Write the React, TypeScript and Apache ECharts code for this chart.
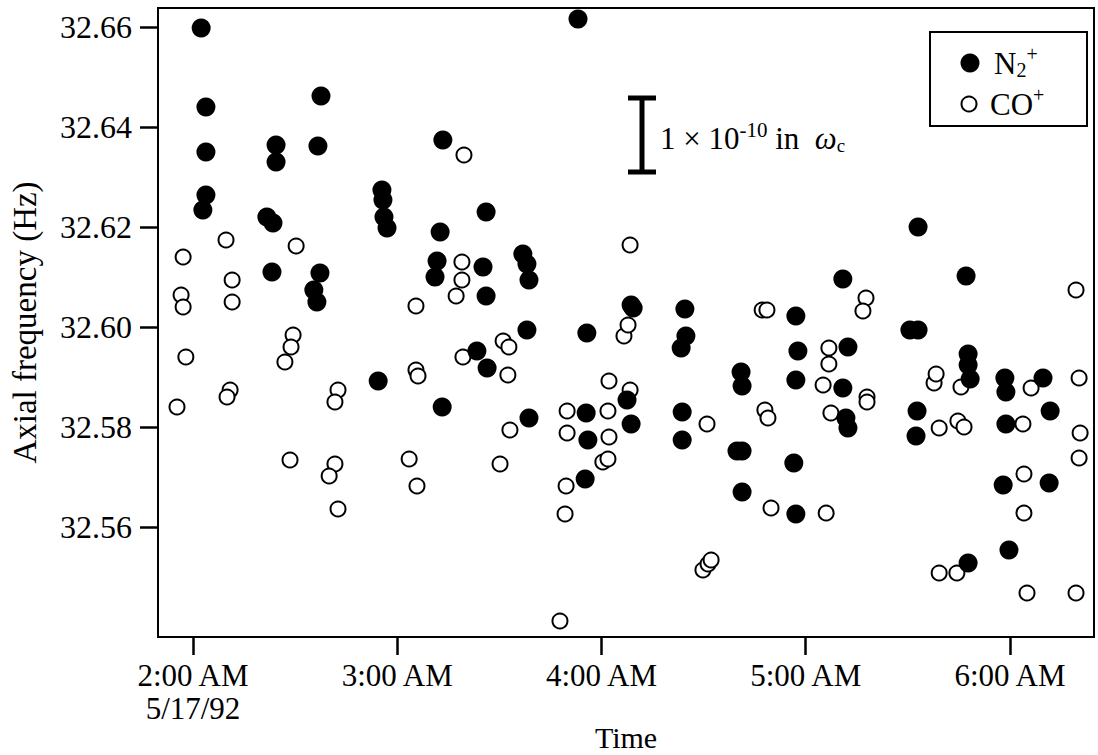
import React, { useEffect, useRef } from "react";
import * as echarts from "echarts";

// Time in minutes after midnight (5/17/92); frequency in Hz
const n2Times = [
  122.4, 123.8, 123.8, 123.8, 122.9, 141.7, 143.5, 143.2, 144.4, 144.4,
  157.6, 156.7, 157.3, 155.5, 156.4, 175.5, 175.8, 176.1, 177.0, 174.4,
  193.4, 192.6, 191.7, 191.1, 193.2, 206.1, 205.2, 206.1, 203.4, 206.4,
  216.9, 218.1, 218.7, 218.1, 218.7, 233.1, 235.7, 235.5, 236.0, 235.2,
  247.5, 248.7, 248.7, 249.3, 264.5, 264.8, 263.4, 263.7, 263.7, 281.0,
  281.3, 279.8, 281.3, 281.3, 297.1, 297.7, 297.1, 296.5, 297.1, 310.9,
  310.9, 312.4, 311.8, 312.4, 333.0, 330.6, 333.0, 332.7, 332.4, 347.1,
  347.7, 347.7, 348.3, 347.7, 358.5, 358.8, 358.8, 358.0, 359.7, 369.7,
  371.8, 371.5,
];
const n2Freqs = [
  32.6598, 32.644, 32.635, 32.6264, 32.6234, 32.622, 32.6208, 32.611, 32.6364, 32.633,
  32.6462, 32.6362, 32.6108, 32.6074, 32.605, 32.6274, 32.6254, 32.622, 32.6198, 32.5892,
  32.6374, 32.619, 32.6132, 32.61, 32.584, 32.623, 32.612, 32.6062, 32.5952, 32.5918,
  32.6146, 32.6126, 32.6094, 32.5994, 32.5818, 32.6616, 32.5988, 32.5828, 32.5774, 32.5696,
  32.5854, 32.5806, 32.6044, 32.6038, 32.6036, 32.5982, 32.5958, 32.583, 32.5774, 32.591,
  32.5882, 32.5752, 32.5752, 32.567, 32.6022, 32.5952, 32.5894, 32.5728, 32.5626, 32.6096,
  32.5878, 32.596, 32.5818, 32.5798, 32.62, 32.5994, 32.5994, 32.5832, 32.5782, 32.6102,
  32.5946, 32.5924, 32.5896, 32.5528, 32.5898, 32.587, 32.5806, 32.5684, 32.5554, 32.5898,
  32.5832, 32.5688,
];
const coTimes = [
  117.1, 129.7, 131.5, 131.5, 116.5, 117.1, 117.9, 115.3, 130.9, 130.0,
  150.3, 149.4, 148.8, 147.0, 148.5, 162.6, 161.7, 161.7, 160.0, 162.6,
  185.5, 185.5, 186.1, 183.5, 185.8, 199.6, 199.0, 199.0, 197.3, 199.3,
  211.1, 212.8, 212.5, 210.2, 213.1, 229.9, 229.9, 229.6, 229.3, 227.8,
  242.2, 241.9, 242.2, 240.4, 241.9, 246.6, 247.8, 248.4, 248.4, 271.0,
  269.8, 271.3, 272.2, 287.2, 288.6, 288.0, 288.9, 289.8, 306.0, 306.8,
  306.8, 305.1, 307.4, 317.7, 316.8, 318.0, 318.0, 337.7, 338.3, 339.2,
  339.2, 344.7, 346.5, 345.6, 344.4, 364.1, 364.1, 363.8, 366.2, 365.0,
  379.4, 380.3, 380.6, 380.3, 379.4,
];
const coFreqs = [
  32.614, 32.6174, 32.6094, 32.605, 32.6064, 32.604, 32.594, 32.584, 32.5874, 32.586,
  32.6162, 32.5984, 32.596, 32.593, 32.5734, 32.5874, 32.585, 32.5726, 32.5702, 32.5636,
  32.6042, 32.5914, 32.5902, 32.5736, 32.5682, 32.6344, 32.613, 32.6094, 32.6062, 32.594,
  32.5972, 32.596, 32.5904, 32.5726, 32.5794, 32.5832, 32.5788, 32.5682, 32.5626, 32.5412,
  32.5892, 32.5832, 32.578, 32.573, 32.5736, 32.5982, 32.6004, 32.6164, 32.5874, 32.5806,
  32.5514, 32.5526, 32.5534, 32.6034, 32.6034, 32.5834, 32.5818, 32.5638, 32.5628, 32.5958,
  32.5926, 32.5884, 32.5828, 32.6058, 32.6032, 32.586, 32.585, 32.5888, 32.5906, 32.5798,
  32.5508, 32.5812, 32.58, 32.588, 32.5508, 32.5628, 32.5706, 32.5806, 32.5878, 32.5468,
  32.6074, 32.5898, 32.5788, 32.5738, 32.5468,
];

const xTickMinutes = [120, 180, 240, 300, 360];
const xTickLabels = ["2:00 AM\n5/17/92", "3:00 AM", "4:00 AM", "5:00 AM", "6:00 AM"];
const yTickValues = [32.56, 32.58, 32.6, 32.62, 32.64, 32.66];

const FONT = "Liberation Serif";

export default function App() {
  const ref = useRef<HTMLDivElement>(null);
  useEffect(() => {
    if (!ref.current) return;
    const chart = echarts.init(ref.current, undefined, { renderer: "svg" });
    const n2Data = n2Times.map((t, i) => [t, n2Freqs[i]]);
    const coData = coTimes.map((t, i) => [t, coFreqs[i]]);
    chart.setOption({
      animation: false,
      backgroundColor: "#fff",
      textStyle: { fontFamily: FONT, color: "#000" },
      grid: {
        left: 158,
        right: 4,
        top: 8,
        bottom: 118,
        containLabel: false,
        outerBoundsMode: "none",
        show: true,
        borderColor: "#000",
        borderWidth: 2,
        backgroundColor: "transparent",
      },
      xAxis: {
        type: "value",
        min: 109.72,
        max: 384.68,
        name: "Time",
        nameLocation: "middle",
        nameGap: 100,
        nameMoveOverlap: false,
        nameTextStyle: { fontFamily: FONT, fontSize: 30, color: "#000", verticalAlign: "middle" },
        axisLine: { show: true, lineStyle: { color: "#000", width: 2 } },
        axisTick: {
          show: true,
          inside: false,
          length: 18,
          lineStyle: { color: "#000", width: 2.5 },
          customValues: xTickMinutes,
        },
        axisLabel: {
          customValues: xTickMinutes,
          margin: 22,
          fontFamily: FONT,
          fontSize: 31,
          color: "#000",
          lineHeight: 33,
          formatter: (v: number) => {
            const i = xTickMinutes.findIndex((m) => Math.abs(m - v) < 0.01);
            return i >= 0 ? xTickLabels[i] : "";
          },
        },
        splitLine: { show: false },
      },
      yAxis: {
        type: "value",
        min: 32.538,
        max: 32.6638,
        name: "Axial frequency (Hz)",
        nameLocation: "middle",
        nameGap: 133,
        nameRotate: 90,
        nameMoveOverlap: false,
        nameTextStyle: { fontFamily: FONT, fontSize: 33, color: "#000", verticalAlign: "middle" },
        axisLine: { show: true, lineStyle: { color: "#000", width: 2 } },
        axisTick: {
          show: true,
          inside: false,
          length: 18,
          lineStyle: { color: "#000", width: 2.5 },
          customValues: yTickValues,
        },
        axisLabel: {
          customValues: yTickValues,
          margin: 26,
          fontFamily: FONT,
          fontSize: 32,
          color: "#000",
          formatter: (v: number) => v.toFixed(2),
        },
        splitLine: { show: false },
      },
      graphic: [
        {
          type: "line",
          shape: { x1: 642, y1: 98, x2: 642, y2: 172 },
          style: { stroke: "#000", lineWidth: 5 },
        },
        {
          type: "line",
          shape: { x1: 628, y1: 98, x2: 656, y2: 98 },
          style: { stroke: "#000", lineWidth: 5 },
        },
        {
          type: "line",
          shape: { x1: 628, y1: 172, x2: 656, y2: 172 },
          style: { stroke: "#000", lineWidth: 5 },
        },
        {
          type: "text",
          x: 660,
          y: 138,
          style: {
            text: "{n|1 × 10}{sup|-10}{n| in  }{w|ω}{sub|c}",
            verticalAlign: "middle",
            rich: {
              n: { fontFamily: FONT, fontSize: 31, fill: "#000", lineHeight: 34 },
              sup: { fontFamily: FONT, fontSize: 21, fill: "#000", lineHeight: 34, padding: [0, 0, 16, 0] },
              w: { fontFamily: FONT, fontSize: 31, fontStyle: "italic", fill: "#000", lineHeight: 34 },
              sub: { fontFamily: FONT, fontSize: 19, fill: "#000", lineHeight: 34, padding: [14, 0, 0, 0] },
            },
          },
        },
        {
          type: "rect",
          shape: { x: 930, y: 32, width: 157, height: 94 },
          style: { fill: "#fff", stroke: "#000", lineWidth: 2 },
        },
        {
          type: "circle",
          shape: { cx: 970, cy: 63, r: 9.5 },
          style: { fill: "#000" },
        },
        {
          type: "circle",
          shape: { cx: 969, cy: 104, r: 7.5 },
          style: { fill: "#fff", stroke: "#000", lineWidth: 2 },
        },
        {
          type: "text",
          x: 994,
          y: 63,
          style: {
            text: "{n|N}{sub|2}{sup|+}",
            verticalAlign: "middle",
            rich: {
              n: { fontFamily: FONT, fontSize: 31, fill: "#000", lineHeight: 34 },
              sub: { fontFamily: FONT, fontSize: 20, fill: "#000", lineHeight: 34, padding: [14, 0, 0, 0] },
              sup: { fontFamily: FONT, fontSize: 20, fill: "#000", lineHeight: 34, padding: [0, 0, 18, 0] },
            },
          },
        },
        {
          type: "text",
          x: 990,
          y: 104,
          style: {
            text: "{n|CO}{sup|+}",
            verticalAlign: "middle",
            rich: {
              n: { fontFamily: FONT, fontSize: 31, fill: "#000", lineHeight: 34 },
              sup: { fontFamily: FONT, fontSize: 20, fill: "#000", lineHeight: 34, padding: [0, 0, 18, 0] },
            },
          },
        },
      ],
      series: [
        {
          name: "N2+",
          type: "scatter",
          data: n2Data,
          symbol: "circle",
          symbolSize: 19,
          itemStyle: { color: "#000", opacity: 1 },
          z: 3,
        },
        {
          name: "CO+",
          type: "scatter",
          data: coData,
          symbol: "circle",
          symbolSize: 15,
          itemStyle: { color: "#fff", borderColor: "#000", borderWidth: 2, opacity: 1 },
          z: 2,
        },
      ],
    });
    return () => chart.dispose();
  }, []);
  return (
    <div
      ref={ref}
      style={{ position: "absolute", left: 0, top: 0, width: 1098, height: 755, background: "#fff" }}
    />
  );
}
